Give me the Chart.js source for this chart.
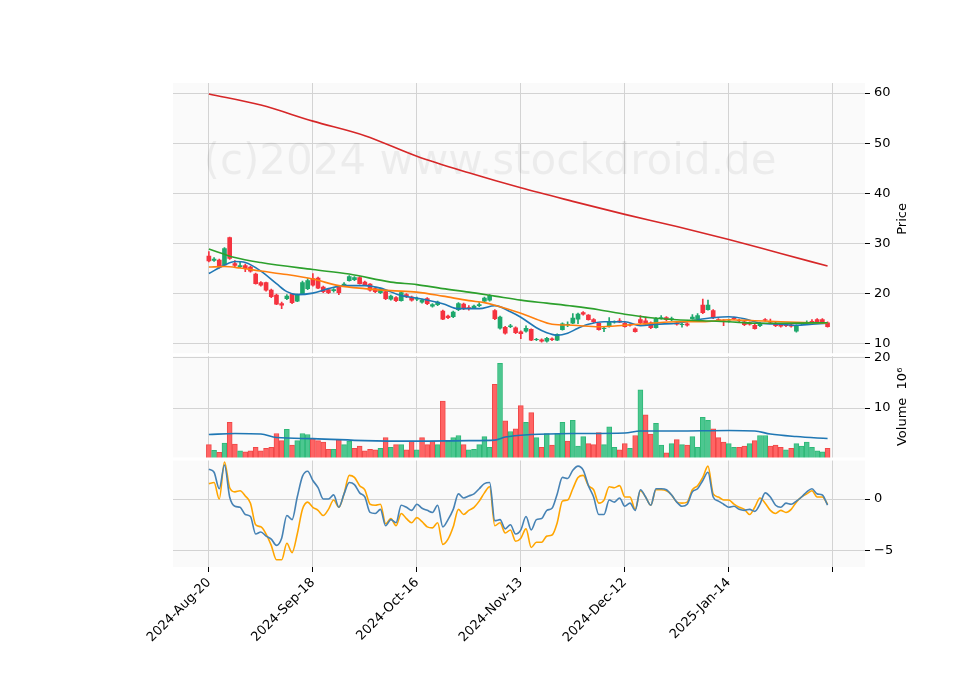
<!DOCTYPE html>
<html><head><meta charset="utf-8">
<script src="https://cdn.jsdelivr.net/npm/chart.js@4/dist/chart.umd.min.js"></script>
<style>html,body{margin:0;background:#fff}#c{width:960px;height:690px}</style>
</head><body><div id="c"><canvas id="cv" width="960" height="690"></canvas></div>
<script>
const tickDates = ['2024-Aug-20','2024-Sep-18','2024-Oct-16','2024-Nov-13','2024-Dec-12','2025-Jan-14',''];
const priceTicks = [10,20,30,40,50,60];
const volumeTicks = [10,20];
const macdTicks = [-5,0];
const opens = [27.5,26.6,26.7,25.7,31.2,26.0,25.4,25.6,25.3,23.9,22.2,22.2,20.7,19.7,18.0,19.0,19.9,18.5,20.0,21.0,23.0,23.1,21.3,20.8,20.6,21.3,21.7,22.6,22.8,23.2,22.3,21.9,21.0,20.2,20.4,18.9,19.2,18.6,19.8,19.3,18.9,18.3,19.0,17.5,17.8,16.5,15.5,15.4,16.8,17.9,17.2,17.2,17.6,18.5,18.7,16.6,13.1,13.3,13.4,13.2,12.4,12.5,12.9,10.8,10.8,10.5,11.0,10.7,12.8,13.8,14.1,14.9,16.2,15.7,14.8,14.1,13.0,13.4,14.3,14.6,14.1,13.8,13.0,14.8,14.6,14.2,13.2,15.1,15.2,14.8,14.2,13.8,14.0,15.0,15.0,17.7,16.8,16.6,14.8,14.6,14.5,15.1,14.7,14.4,14.2,13.7,13.6,14.8,14.4,14.1,13.8,13.9,13.8,12.5,14.0,14.1,14.5,14.8,14.8,14.2];
const closes = [26.5,26.9,25.3,29.0,27.0,25.6,25.6,25.0,24.5,22.0,21.7,20.7,19.4,17.9,17.7,19.5,18.2,19.7,22.2,22.6,21.7,21.1,20.4,20.2,20.8,20.2,21.9,23.4,23.2,22.0,21.8,20.7,20.4,20.9,19.0,19.5,18.6,20.2,19.4,18.7,19.0,18.7,18.0,17.8,18.3,14.9,15.2,16.3,18.0,17.0,17.0,17.5,17.8,19.1,19.6,15.0,15.3,12.1,13.6,12.2,12.0,13.1,10.7,10.9,10.5,11.1,10.8,11.9,14.0,13.9,15.1,15.9,15.9,14.8,14.4,12.8,13.1,14.4,14.4,14.3,13.4,13.7,12.4,14.2,13.9,13.2,15.0,15.2,14.8,15.0,13.9,13.9,13.7,15.3,15.6,16.2,17.7,15.2,14.7,14.5,14.6,15.0,14.6,13.8,13.9,13.0,14.1,14.7,14.3,13.6,13.5,13.6,13.5,13.6,14.1,14.2,14.4,14.4,14.4,13.4];
const highs = [28.4,27.2,26.9,29.2,31.3,26.6,26.4,25.9,25.5,24.1,22.4,22.3,20.9,19.9,18.3,19.8,20.0,19.9,22.5,23.0,24.0,23.3,21.5,21.0,21.0,21.5,22.2,23.6,23.4,23.4,22.5,22.0,21.2,21.1,20.6,19.7,19.4,20.4,20.0,19.5,19.3,18.9,19.2,18.0,18.5,16.7,15.7,16.5,18.2,18.1,17.6,17.7,18.2,19.3,19.8,16.8,15.5,13.5,13.9,13.4,12.6,13.6,13.0,11.1,11.0,11.3,11.2,12.0,14.2,14.4,16.0,16.1,16.4,15.8,15.0,14.2,13.4,15.2,14.6,15.0,14.3,14.0,13.2,15.6,15.3,14.4,15.2,15.6,15.4,15.3,14.4,14.1,14.2,15.8,16.0,18.9,18.7,16.8,15.0,14.8,14.9,15.3,14.9,14.6,14.4,13.9,14.3,15.0,14.9,14.3,14.0,14.1,14.0,13.8,14.3,14.6,14.8,15.0,15.0,14.4];
const lows = [26.3,26.4,25.1,25.5,26.8,25.4,25.2,24.4,24.3,21.9,21.5,20.5,19.2,17.8,17.0,18.8,18.0,18.4,19.9,20.8,21.5,21.0,20.2,20.0,20.3,19.8,21.4,22.5,22.6,21.9,21.6,20.5,20.2,20.0,18.8,18.7,18.4,18.5,19.2,18.5,18.6,18.1,17.8,17.3,17.6,14.8,15.0,15.2,16.6,16.8,16.7,17.0,17.4,18.3,18.5,14.8,12.9,11.9,13.2,12.0,11.0,12.3,10.6,10.6,10.3,10.3,10.6,10.6,12.7,13.4,14.0,14.0,15.7,14.7,14.2,12.7,12.4,13.3,14.1,14.2,13.3,13.5,12.3,14.0,13.8,13.0,13.1,14.9,14.6,14.6,13.7,13.3,13.5,14.9,14.8,16.0,16.7,15.0,14.5,13.6,14.3,14.8,14.4,13.6,13.7,12.9,13.4,14.5,14.1,13.4,13.3,13.4,13.3,12.3,13.8,13.9,14.2,14.2,14.2,13.3];
const volumes = [2.8,1.7,1.3,3.1,7.2,2.9,1.6,1.4,1.6,2.3,1.6,2.1,2.3,5.0,3.6,5.8,2.7,3.6,5.0,4.8,4.0,3.6,3.3,1.9,1.9,3.8,2.8,3.5,2.1,2.5,1.6,1.9,1.8,2.1,4.2,2.3,2.8,2.8,1.8,3.5,1.8,4.2,2.8,3.5,2.8,11.4,3.5,4.2,4.6,2.8,1.8,1.9,2.8,4.4,2.3,14.7,18.8,7.5,5.4,5.9,10.5,7.2,9.1,4.2,2.3,5.0,2.7,5.0,7.2,3.5,7.6,2.5,4.4,3.0,2.8,5.2,2.8,6.3,2.3,1.8,3.0,2.1,4.6,13.6,8.7,4.9,7.0,2.7,1.2,3.0,3.8,2.8,2.7,4.4,2.3,8.2,7.6,5.9,4.2,3.3,3.0,2.3,2.3,2.5,3.0,3.6,4.6,4.6,2.5,2.7,2.3,1.8,2.1,3.0,2.5,3.3,2.3,1.6,1.4,2.1];
const macdLine = [2.9,2.6,1.0,3.3,0.2,-0.7,-0.8,-1.5,-1.7,-3.4,-3.2,-3.6,-3.9,-4.5,-3.8,-1.6,-2.0,0.2,2.2,2.7,1.8,1.1,0,0,0.4,-0.8,0.5,1.6,1.4,0.6,0.2,-1.3,-1.4,-1.0,-2.6,-2.0,-2.3,-0.6,-0.8,-1.1,-0.5,-0.9,-1.1,-1.3,-0.6,-2.7,-2.0,-1.0,0.5,0.1,0.3,0.5,1.0,1.5,1.6,-2.1,-2.0,-2.9,-2.5,-3.4,-3.0,-1.7,-3.0,-2.0,-1.9,-1.1,-0.9,0.5,2.1,2.0,2.8,3.2,2.8,1.3,0.2,-1.5,-1.5,-0.1,-0.3,0.1,-0.7,-0.4,-1.1,0.9,0.2,-0.6,1.0,1.0,0.9,0.4,-0.3,-0.7,-0.5,0.7,1.0,1.8,2.6,0.2,-0.2,-0.5,-0.8,-0.7,-1.0,-1.1,-1.0,-1.2,-0.5,0.6,0.2,-0.6,-0.8,-0.4,-0.5,-0.2,0.2,0.7,1.0,0.5,0.4,-0.6];
const signalLine = [1.5,1.6,0,3.6,1.1,0.7,0.8,0.3,-0.4,-2.5,-2.7,-3.4,-4.5,-5.9,-5.9,-4.3,-5.2,-3.4,-1.0,-0.3,-0.8,-1.1,-1.6,-1.0,-0.1,-0.8,0.5,2.3,2.1,1.3,0.9,-0.5,-0.6,-0.5,-2.4,-1.9,-2.6,-1.4,-1.9,-2.3,-1.8,-2.2,-2.7,-2.8,-2.3,-4.4,-3.9,-2.7,-1.0,-1.5,-1.1,-0.8,-0.2,0.6,1.2,-2.6,-2.3,-3.3,-3.0,-4.1,-3.8,-2.9,-4.7,-4.2,-4.2,-3.6,-3.5,-2.3,-0.2,-0.1,1.0,2.1,2.3,1.3,0.9,-0.4,-0.1,1.2,1.1,1.3,0.2,0.2,-1.0,0.8,0.2,-0.6,0.9,0.9,0.8,0.4,-0.3,-0.4,-0.3,0.9,1.3,2.1,3.2,0.5,0.2,-0.1,-0.1,-0.5,-0.8,-1.0,-1.5,-0.8,0.1,-0.4,-1.1,-1.4,-1.1,-1.3,-1.0,-0.3,0.2,0.5,0.8,0.2,0.2,-0.5];
const maShort = [[0,24.0],[3,25.7],[5,26.4],[7,26.2],[10,24.5],[13,22.0],[15,20.4],[17,19.8],[20,20.1],[23,21.0],[26,21.6],[30,21.6],[33,21.1],[37,19.6],[40,19.1],[45,18.0],[48,17.0],[52,17.0],[55,17.6],[58,16.4],[60,15.3],[63,13.2],[65,12.2],[67,11.7],[69,12.1],[71,13.1],[73,13.9],[76,14.4],[80,14.4],[83,13.6],[86,13.9],[90,14.1],[94,14.8],[97,15.2],[100,15.4],[103,15.0],[106,14.1],[110,13.9],[113,13.7],[116,13.9],[119,14.1]];
const maMid = [[0,25.3],[3,25.4],[6,25.1],[10,24.5],[15,23.8],[20,22.9],[25,21.6],[30,21.0],[35,20.6],[40,20.3],[45,19.5],[50,18.6],[53,18.2],[55,17.7],[60,16.1],[63,14.9],[66,13.9],[70,13.7],[75,13.4],[80,13.7],[85,14.1],[90,14.4],[95,14.4],[100,14.8],[105,14.6],[110,14.4],[119,14.1]];
const maLong = [[0,28.9],[5,27.2],[10,26.2],[20,24.8],[27,23.9],[35,22.3],[40,21.8],[45,21.0],[50,20.3],[55,19.5],[60,18.7],[65,18.1],[70,17.5],[75,16.8],[80,15.9],[85,15.2],[90,14.8],[95,14.6],[100,14.4],[105,14.1],[110,14.1],[119,14.2]];
const ma200 = [[0,59.8],[10,57.6],[20,54.4],[30,51.5],[40,47.4],[50,44.1],[60,41.1],[70,38.4],[80,35.8],[90,33.4],[100,30.8],[110,28.0],[119,25.5]];
const volMa = [[0,4.8],[5,5.0],[10,4.9],[13,4.2],[20,4.0],[30,3.6],[40,3.5],[50,3.6],[55,3.7],[57,4.3],[62,4.8],[70,5.0],[80,5.1],[83,5.5],[90,5.5],[100,5.6],[105,5.5],[108,4.9],[113,4.4],[119,4.0]];

const GREEN='#1ea86c', RED='#f5333f';
const days = opens.map((_,i)=>i);
const up = days.map(i=>closes[i]>=opens[i]);
const volUp = days.map(i=>i===0 ? closes[0]>=opens[0] : closes[i]>=closes[i-1]);
const pts = a=>a.map(p=>({x:p[0],y:p[1]}));
const line = (data,color,axis,w)=>({type:'line',data,borderColor:color,borderWidth:w||1.6,pointRadius:0,yAxisID:axis,cubicInterpolationMode:'monotone',order:0});

const fontF='DejaVu Sans';
const bgPlugin={id:'bg',beforeDraw(ch){
  const c=ch.ctx, s=ch.scales;
  c.save();c.fillStyle='#fafafa';
  ['y','yv','ym'].forEach(k=>{const a=s[k];c.fillRect(ch.chartArea.left,a.top,ch.chartArea.width,a.bottom-a.top);});
  c.restore();
},afterDraw(ch){
  const c=ch.ctx,s=ch.scales,x=ch.chartArea.right+38;
  c.save();c.fillStyle='#000';c.font='13px '+fontF;c.textAlign='center';c.textBaseline='middle';
  [['y','Price'],['yv','Volume  10⁶']].forEach(([k,t])=>{const a=s[k];c.save();c.translate(x,(a.top+a.bottom)/2);c.rotate(-Math.PI/2);c.fillText(t,0,0);c.restore();});
  c.strokeStyle='#fff';c.lineWidth=3;
  [s.yv.top,s.ym.top].forEach(y=>{c.beginPath();c.moveTo(ch.chartArea.left,y);c.lineTo(ch.chartArea.right,y);c.stroke();});
  c.restore();
},beforeDatasetsDraw(ch){
  const c=ch.ctx;c.save();c.fillStyle='rgba(0,0,0,0.055)';c.font='42px '+fontF;c.textAlign='center';c.textBaseline='middle';
  c.fillText('(c)2024 www.stockdroid.de',490,163);c.restore();
}};

const yTicks={color:'#000',font:{family:fontF,size:13},padding:4};
const grid={color:'#d3d3d3',tickLength:5,tickColor:'#000',offset:false};
const fixW=a=>{a.width=70;};
const setTicks=vals=>(a=>{a.ticks=vals.map(v=>({value:v}));});
new Chart(document.getElementById('cv'),{
  data:{datasets:[
    line(pts(ma200),'#d62728','y'),
    line(pts(maLong),'#2ca02c','y'),
    line(pts(maMid),'#ff7f0e','y'),
    line(pts(maShort),'#1f77b4','y'),
    {type:'bar',data:days.map(i=>({x:i,y:[lows[i],highs[i]]})),backgroundColor:days.map(i=>up[i]?GREEN:RED),barThickness:1,grouped:false,yAxisID:'y',order:2},
    {type:'bar',data:days.map(i=>({x:i,y:[opens[i],closes[i]===opens[i]?opens[i]+0.05:closes[i]]})),backgroundColor:days.map(i=>up[i]?GREEN:RED),barThickness:4,grouped:false,yAxisID:'y',order:1},
    {type:'bar',data:days.map(i=>({x:i,y:volumes[i]})),backgroundColor:days.map(i=>volUp[i]?'#4cc790':'#ff6464'),borderColor:days.map(i=>volUp[i]?'#2eb877':'#f04848'),borderWidth:1,barThickness:5,grouped:false,yAxisID:'yv',order:3},
    line(pts(volMa),'#1f77b4','yv',1.6),
    line(days.map(i=>({x:i,y:macdLine[i]})),'#4682b4','ym',1.6),
    line(days.map(i=>({x:i,y:signalLine[i]})),'#ffa500','ym',1.6)
  ]},
  options:{responsive:false,animation:false,events:[],
    layout:{padding:{left:173,top:83,right:25,bottom:0}},
    plugins:{legend:{display:false},tooltip:{enabled:false}},
    scales:{
      x:{type:'linear',min:-6.9,max:126.2,offset:false,
        afterFit(a){a.height=123;},
        afterBuildTicks:setTicks([0,20,40,60,80,100,120]),
        ticks:{autoSkip:false,maxRotation:45,minRotation:45,color:'#000',font:{family:fontF,size:13},
          callback:v=>tickDates[Math.round(v/20)]??''},
        grid:{...grid},border:{display:false}},
      y:{position:'right',stack:'s',stackWeight:269,min:7.8,max:62,afterFit:fixW,afterBuildTicks:setTicks(priceTicks),ticks:{...yTicks},grid:{...grid},border:{display:false}},
      yv:{position:'right',stack:'s',stackWeight:103,min:0,max:20.5,afterFit:fixW,afterBuildTicks:setTicks(volumeTicks),ticks:{...yTicks},grid:{...grid},border:{display:false}},
      ym:{position:'right',stack:'s',stackWeight:107,min:-6.6,max:3.9,afterFit:fixW,afterBuildTicks:setTicks(macdTicks),ticks:{...yTicks,callback:v=>v<0?'−'+(-v):v},grid:{...grid},border:{display:false}}
    }
  },
  plugins:[bgPlugin]
});
</script></body></html>
